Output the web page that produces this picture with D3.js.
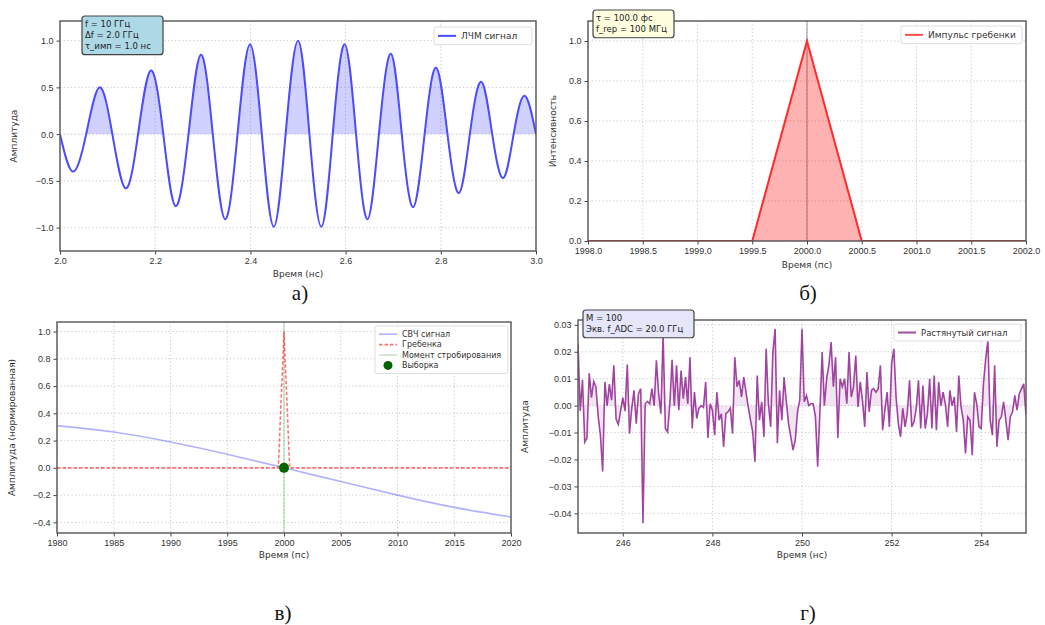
<!DOCTYPE html>
<html lang="ru">
<head>
  <meta charset="UTF-8" />
  <title>Stroboscopic sampling panels</title>
  <style>
    body { margin:0; background:#fff; }
    svg { display:block; font-family:"DejaVu Sans", sans-serif; }
    .tick text { font-size:9px; fill:#333; }
    .tick line { stroke:#444; }
    .grid line { stroke:#aaa; stroke-dasharray:1.2,2.4; stroke-width:0.8; opacity:0.8; }
    .axlabel { font-size:9px; fill:#333; }
    .caption { font-family:"Liberation Serif", "Times New Roman", serif; font-size:21px; fill:#111; }
  </style>
</head>
<body>
<svg id="fig"></svg>
<script src="https://d3js.org/d3.v7.min.js"></script>
<script>
// ---- panel а: chirp pulse (extrema and zero crossings)
const chirpTime = [2.000,2.027,2.055,2.083,2.110,2.138,2.164,2.191,2.217,2.243,2.270,2.296,2.321,2.347,
                   2.373,2.399,2.424,2.449,2.474,2.500,2.524,2.549,2.573,2.598,2.622,2.646,2.670,2.695,
                   2.718,2.742,2.766,2.790,2.814,2.838,2.861,2.885,2.908,2.931,2.953,2.976,3.000];
const chirpAmp  = [0,-0.40,0,0.50,0,-0.58,0,0.68,0,-0.77,0,0.85,0,-0.91,
                   0,0.96,0,-0.99,0,1.00,0,-0.99,0,0.96,0,-0.91,0,0.86,
                   0,-0.78,0,0.71,0,-0.63,0,0.56,0,-0.47,0,0.41,0];
const chirpXTicks = [2.0,2.2,2.4,2.6,2.8,3.0];
const chirpYTicks = [-1.0,-0.5,0.0,0.5,1.0];
const chirpInfo = ["f = 10 ГГц","Δf = 2.0 ГГц","τ_имп = 1.0 нс"];

// ---- panel б: comb pulse
const combTime = [1998.0,1999.5,2000.0,2000.5,2002.0];
const combInt  = [0,0,1,0,0];
const combXTicks = [1998.0,1998.5,1999.0,1999.5,2000.0,2000.5,2001.0,2001.5,2002.0];
const combYTicks = [0.0,0.2,0.4,0.6,0.8,1.0];
const combInfo = ["τ = 100.0 фс","f_rep = 100 МГц"];

// ---- panel в: sampling moment
const mwTime = [1980,1985,1990,1995,2000,2005,2010,2015,2020];
const mwAmp  = [0.31,0.263,0.19,0.10,0.0,-0.10,-0.20,-0.29,-0.36];
const spikeTime = [1980,1999.5,2000,2000.5,2020];
const spikeAmp  = [0,0,1,0,0];
const sampleTime = [2000];
const sampleAmp  = [0];
const sampXTicks = [1980,1985,1990,1995,2000,2005,2010,2015,2020];
const sampYTicks = [-0.4,-0.2,0.0,0.2,0.4,0.6,0.8,1.0];

// ---- panel г: stretched signal, samples from 245 to 255 ns
const stretchRange = [245,255];
const stretchAmp = [0.023,-0.002,0.0096,-0.0135,-0.012,0.012,0.003,0.009,0.007,-0.004,-0.011,-0.0245,0.0088,0.0,
  0.008,0.002,0.015,-0.005,-0.007,-0.002,0.003,-0.002,0.0153,-0.0104,-0.001,0.0057,-0.0067,0.0044,0.0063,-0.0437,
  0.0007,0.0016,0.0007,0.0063,0.0,0.0168,0.0044,-0.003,0.0264,-0.0085,-0.0098,0.0007,0.017,0.0,0.015,-0.0017,
  0.013,0.0026,0.0106,0.0007,0.018,-0.0085,0.005,-0.0048,-0.001,0.0,-0.0007,0.0088,-0.012,0.0007,-0.0017,-0.011,
  0.005,-0.0054,-0.003,-0.0153,-0.003,-0.0023,-0.001,-0.0104,0.018,0.007,0.0094,0.0032,0.0106,0.005,-0.0005,
  -0.0054,-0.0098,-0.0209,0.0112,-0.0054,0.0014,-0.0116,0.0211,0.0007,-0.0079,0.0199,0.0285,-0.014,0.0057,
  -0.0054,0.0106,0.0014,-0.0067,-0.0116,-0.0165,-0.0128,-0.0023,0.002,0.0285,0.0014,0.0038,0.0,0.0007,0.0007,
  -0.0042,-0.0227,-0.0023,0.0199,0.0,0.01,0.015,0.0236,0.007,0.018,-0.012,0.01,0.007,0.01,0.0007,0.0199,0.0032,
  0.007,0.0186,-0.0005,0.0088,0.002,-0.0079,0.0125,-0.0023,0.0057,0.0063,0.005,0.0063,0.015,-0.0091,-0.0017,
  0.005,-0.0079,0.0156,0.0211,0.0032,-0.0067,-0.0116,-0.001,-0.0079,-0.003,0.0094,-0.0079,-0.006,-0.001,0.0094,
  -0.0085,0.0075,-0.0085,-0.003,0.01,-0.0085,0.0112,-0.0091,0.0088,0.0,0.005,0.0007,-0.0079,0.0057,0.0,0.0032,
  -0.0098,0.0112,-0.0005,-0.0054,-0.0178,-0.0042,-0.0054,-0.0184,0.005,0.0007,-0.0079,-0.0085,0.0081,0.0174,
  0.0242,-0.0054,-0.011,0.015,-0.0153,-0.0054,-0.0042,0.0014,-0.0054,-0.0128,-0.0042,-0.0023,0.0038,-0.0017,
  0.0044,0.0063,0.0081,-0.0035];
const stretchXTicks = [246,248,250,252,254];
const stretchYTicks = [-0.04,-0.03,-0.02,-0.01,0.00,0.01,0.02,0.03];
const stretchInfo = ["M = 100","Экв. f_ADC = 20.0 ГГц"];

const W = 1045, H = 625;
const svg = d3.select("#fig").attr("width",W).attr("height",H);
svg.append("rect").attr("width",W).attr("height",H).attr("fill","#fff");

let clipN = 0;
// builds one axes box: scales, grid, ticks, frame
function makeAxes(o){
  const x = d3.scaleLinear().domain(o.xd).range([o.l,o.r]),
        y = d3.scaleLinear().domain(o.yd).range([o.b,o.t]);
  const g = svg.append("g");
  const id = "clip"+(clipN++);
  g.append("clipPath").attr("id",id).append("rect")
   .attr("x",o.l).attr("y",o.t).attr("width",o.r-o.l).attr("height",o.b-o.t);
  // grid
  g.append("g").attr("class","grid").selectAll("line").data(o.xt).join("line")
   .attr("x1",d=>x(d)).attr("x2",d=>x(d)).attr("y1",o.t).attr("y2",o.b);
  g.append("g").attr("class","grid").selectAll("line").data(o.yt).join("line")
   .attr("y1",d=>y(d)).attr("y2",d=>y(d)).attr("x1",o.l).attr("x2",o.r);
  const plot = g.append("g").attr("clip-path",`url(#${id})`);
  // axes
  g.append("g").attr("transform",`translate(0,${o.b})`)
   .call(d3.axisBottom(x).tickValues(o.xt).tickFormat(d3.format(o.xf)).tickSize(3.5).tickPadding(3).tickSizeOuter(0))
   .call(a=>a.select(".domain").remove());
  g.append("g").attr("transform",`translate(${o.l},0)`)
   .call(d3.axisLeft(y).tickValues(o.yt).tickFormat(d3.format(o.yf)).tickSize(3.5).tickPadding(3).tickSizeOuter(0))
   .call(a=>a.select(".domain").remove());
  g.append("rect").attr("x",o.l).attr("y",o.t).attr("width",o.r-o.l).attr("height",o.b-o.t)
   .attr("fill","none").attr("stroke","#555").attr("stroke-width",1.4);
  g.append("text").attr("class","axlabel").attr("text-anchor","middle")
   .attr("x",(o.l+o.r)/2).attr("y",o.b+o.xlOff).text(o.xl);
  g.append("text").attr("class","axlabel").attr("text-anchor","middle")
   .attr("transform",`translate(${o.ylX},${(o.t+o.b)/2}) rotate(-90)`).text(o.yl);
  g.append("text").attr("class","caption").attr("text-anchor","middle")
   .attr("x",o.capX).attr("y",o.capY).text(o.cap);
  return {x,y,g,plot,id};
}

function infoBox(g,x0,y0,w,lines,fill,fs){
  const lh = fs*1.28;
  g.append("rect").attr("x",x0).attr("y",y0).attr("width",w).attr("height",lines.length*lh+6)
   .attr("rx",3).attr("fill",fill).attr("stroke","#444").attr("stroke-width",1.2);
  lines.forEach((s,i)=>g.append("text").attr("x",x0+3).attr("y",y0+3+lh*(i+0.78))
   .style("font-size",fs+"px").style("fill","#222").text(s));
}

function legend(g,x0,y0,w,items,fs){
  const lh = fs*1.3;
  g.append("rect").attr("x",x0).attr("y",y0).attr("width",w).attr("height",items.length*lh+6)
   .attr("rx",2).attr("fill","#fff").attr("fill-opacity",0.85).attr("stroke","#ddd");
  items.forEach((it,i)=>{
    const cy = y0+3+lh*(i+0.5);
    if(it.dot){
      g.append("circle").attr("cx",x0+13).attr("cy",cy).attr("r",4.5).attr("fill",it.color);
    } else {
      g.append("line").attr("x1",x0+4).attr("x2",x0+22).attr("y1",cy).attr("y2",cy)
       .attr("stroke",it.color).attr("stroke-width",it.w||2).attr("stroke-dasharray",it.dash||null)
       .attr("stroke-opacity",it.op||1);
    }
    g.append("text").attr("x",x0+27).attr("y",cy+fs*0.36).style("font-size",fs+"px").style("fill","#333").text(it.label);
  });
}

// ---------- а
{
  const A = makeAxes({l:60,r:536,t:21,b:251,xd:[2.0,3.0],yd:[-1.25,1.21],xt:chirpXTicks,yt:chirpYTicks,
    xf:".1f",yf:".1f",xl:"Время (нс)",xlOff:26,yl:"Амплитуда",ylX:17,cap:"а)",capX:300,capY:300});
  const pts = chirpTime.map((t,i)=>[t,chirpAmp[i]]);
  const cid = "posclip";
  A.g.append("clipPath").attr("id",cid).append("rect")
   .attr("x",60).attr("y",21).attr("width",476).attr("height",A.y(0)-21);
  A.plot.append("path").datum(pts).attr("clip-path",`url(#${cid})`)
   .attr("d",d3.area().curve(d3.curveNatural).x(d=>A.x(d[0])).y0(A.y(0)).y1(d=>A.y(d[1])))
   .attr("fill","#0000ff").attr("fill-opacity",0.18);
  A.plot.append("path").datum(pts)
   .attr("d",d3.line().curve(d3.curveNatural).x(d=>A.x(d[0])).y(d=>A.y(d[1])))
   .attr("fill","none").attr("stroke","#4b4bff").attr("stroke-width",2);
  legend(A.g,434,27,98,[{label:"ЛЧМ сигнал",color:"#4b4bff"}],9);
  infoBox(A.g,82,16,81,chirpInfo,"#add8e6",8.5);
}

// ---------- б
{
  const B = makeAxes({l:588,r:1026,t:21,b:241,xd:[1998,2002],yd:[0,1.1],xt:combXTicks,yt:combYTicks,
    xf:".1f",yf:".1f",xl:"Время (пс)",xlOff:27,yl:"Интенсивность",ylX:556,cap:"б)",capX:808,capY:300});
  const pts = combTime.map((t,i)=>[t,combInt[i]]);
  B.plot.append("line").attr("x1",B.x(2000)).attr("x2",B.x(2000)).attr("y1",21).attr("y2",241)
   .attr("stroke","#888").attr("stroke-width",1.5).attr("stroke-opacity",0.6);
  B.plot.append("path").datum(pts)
   .attr("d",d3.area().x(d=>B.x(d[0])).y0(B.y(0)).y1(d=>B.y(d[1])))
   .attr("fill","#ff0000").attr("fill-opacity",0.3);
  B.plot.append("path").datum(pts)
   .attr("d",d3.line().x(d=>B.x(d[0])).y(d=>B.y(d[1])))
   .attr("fill","none").attr("stroke","#ff2a2a").attr("stroke-width",2);
  legend(B.g,901,26,121,[{label:"Импульс гребенки",color:"#ff4d4d"}],9);
  infoBox(B.g,593,10,81,combInfo,"#ffffe0",8.5);
}

// ---------- в
{
  const C = makeAxes({l:57,r:511,t:322,b:533,xd:[1980,2020],yd:[-0.478,1.07],xt:sampXTicks,yt:sampYTicks,
    xf:"d",yf:".1f",xl:"Время (пс)",xlOff:25,yl:"Амплитуда (нормированная)",ylX:15,cap:"в)",capX:283,capY:620});
  C.plot.append("line").attr("x1",C.x(2000)).attr("x2",C.x(2000)).attr("y1",322).attr("y2",533)
   .attr("stroke","#008000").attr("stroke-width",1).attr("stroke-opacity",0.35);
  C.plot.append("path").datum(mwTime.map((t,i)=>[t,mwAmp[i]]))
   .attr("d",d3.line().curve(d3.curveNatural).x(d=>C.x(d[0])).y(d=>C.y(d[1])))
   .attr("fill","none").attr("stroke","#0000ff").attr("stroke-opacity",0.3).attr("stroke-width",1.6);
  C.plot.append("path").datum(spikeTime.map((t,i)=>[t,spikeAmp[i]]))
   .attr("d",d3.line().x(d=>C.x(d[0])).y(d=>C.y(d[1])))
   .attr("fill","none").attr("stroke","#ff0000").attr("stroke-opacity",0.55).attr("stroke-width",1.6)
   .attr("stroke-dasharray","3.5,2");
  C.plot.selectAll("circle.s").data(sampleTime).join("circle").attr("class","s")
   .attr("cx",d=>C.x(d)).attr("cy",(d,i)=>C.y(sampleAmp[i])).attr("r",5).attr("fill","#006400");
  legend(C.g,375,326,133,[
    {label:"СВЧ сигнал",color:"#0000ff",op:0.3,w:1.6},
    {label:"Гребенка",color:"#ff0000",op:0.55,w:1.6,dash:"3.5,2"},
    {label:"Момент стробирования",color:"#008000",op:0.35,w:1},
    {label:"Выборка",color:"#006400",dot:true}],8);
}

// ---------- г
{
  const D = makeAxes({l:578,r:1026,t:320,b:533,xd:stretchRange,yd:[-0.0473,0.0318],xt:stretchXTicks,yt:stretchYTicks,
    xf:"d",yf:".2f",xl:"Время (нс)",xlOff:25,yl:"Амплитуда",ylX:528,cap:"г)",capX:808,capY:620});
  const idx = d3.scaleLinear().domain([0,stretchAmp.length-1]).range(stretchRange);
  const pts = stretchAmp.map((v,i)=>[idx(i),v]);
  D.plot.append("path").datum(pts)
   .attr("d",d3.area().x(d=>D.x(d[0])).y0(D.y(0)).y1(d=>D.y(d[1])))
   .attr("fill","#800080").attr("fill-opacity",0.1);
  D.plot.append("path").datum(pts)
   .attr("d",d3.line().x(d=>D.x(d[0])).y(d=>D.y(d[1])))
   .attr("fill","none").attr("stroke","#800080").attr("stroke-opacity",0.72).attr("stroke-width",1.6);
  legend(D.g,894,324,127,[{label:"Растянутый сигнал",color:"#a04ca0"}],8.5);
  infoBox(D.g,583,310,111,stretchInfo,"#e6e6fa",8.5);
}
</script>
</body>
</html>
